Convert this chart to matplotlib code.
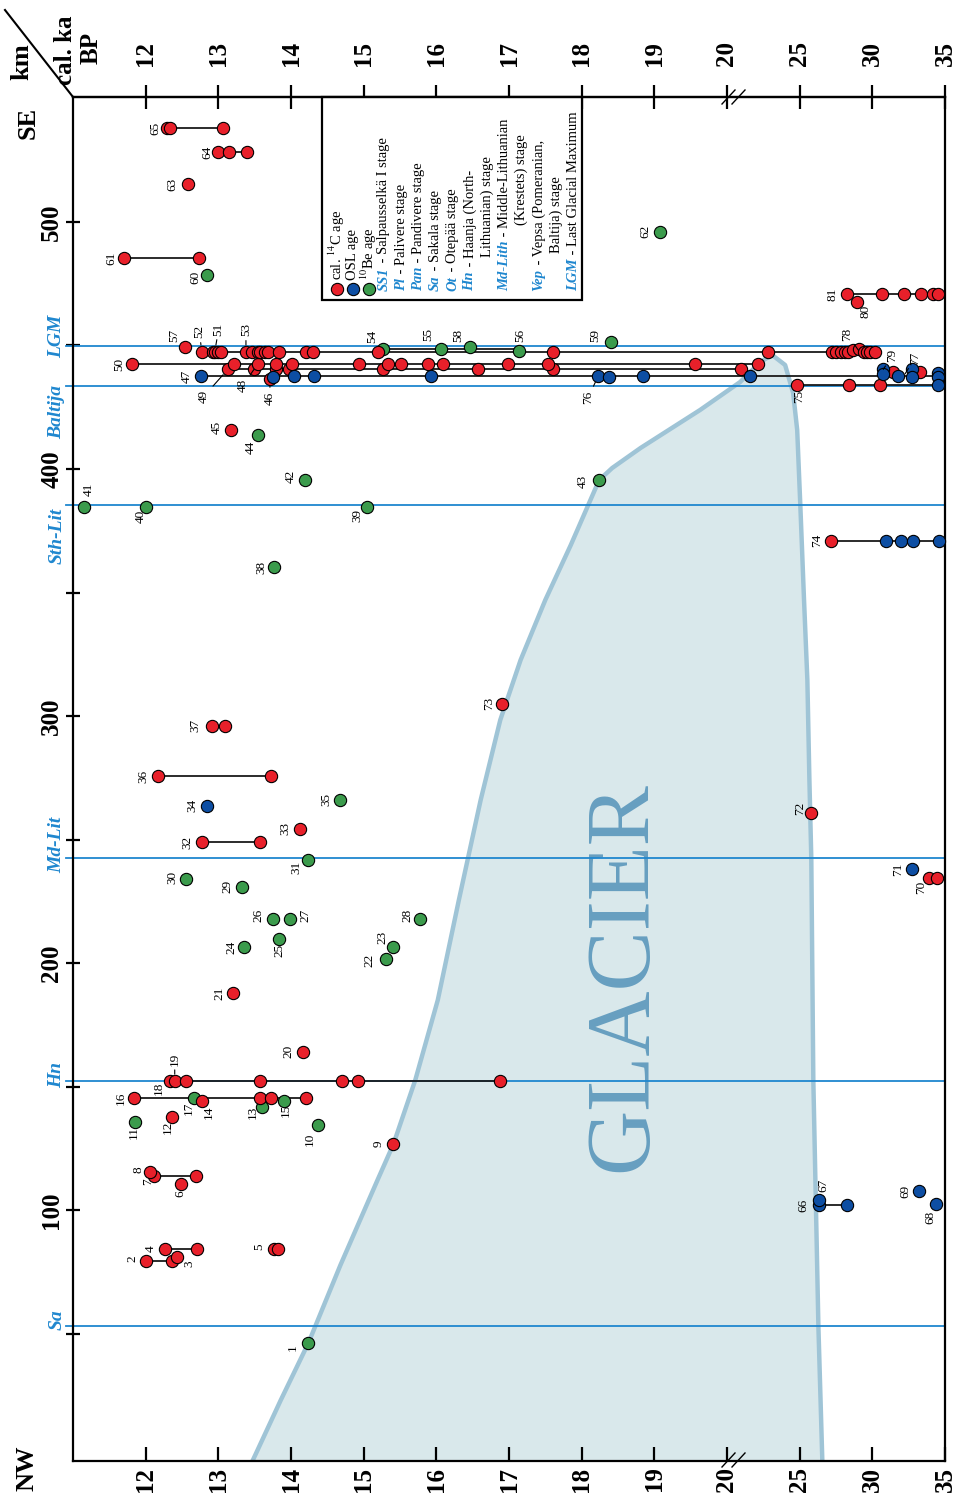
import matplotlib
matplotlib.use('Agg')
import matplotlib.pyplot as plt
from matplotlib.patches import Polygon, Rectangle
from matplotlib.lines import Line2D

plt.rcParams['font.family'] = ['Liberation Serif', 'DejaVu Serif']
plt.rcParams['mathtext.fontset'] = 'stix'

# ------------------------------------------------------------------ data
# axis ticks (age, ka BP) -- scale is broken at 20 ka
age_ticks = [12, 13, 14, 15, 16, 17, 18, 19, 20, 25, 30, 35]
age_tick_labels = ['12', '13', '14', '15', '16', '17', '18', '19', '20', '25', '30', '35']
km_ticks = [100, 200, 300, 400, 500]
km_minor_ticks = [50, 150, 250, 350, 450]

# ice-marginal stages (km)
stage_names = ['Sa', 'Hn', 'Md-Lit', 'Sth-Lit', 'Baltija', 'LGM']
stage_km = [53.0, 152.2, 242.5, 385.4, 433.6, 449.8]

# glacier outline (age ka, km)
glacier_age = [13.47, 13.86, 14.24, 14.68, 15.19, 15.41, 15.71, 16.02, 16.31, 16.61,
               16.88, 17.16, 17.50, 17.85, 18.12, 18.24, 18.42, 18.81, 19.63, 20.9,
               22.3, 23.1, 24.0, 24.55, 24.83, 25.05, 25.3, 25.53, 25.67, 25.8,
               25.94, 26.15, 26.29, 26.56]
glacier_km = [-1.6, 23.1, 46.2, 77.7, 112.1, 126.7, 152.6, 185.0, 225.5, 266.0,
              298.4, 322.7, 347.0, 369.2, 387.4, 395.5, 400.4, 408.5, 423.9, 435.2,
              443.3, 446.2, 442.1, 430.8, 415.8, 384.6, 347.0, 314.6, 274.1, 242.5,
              152.6, 92.7, 52.6, -1.6]

# cal. 14C ages
c14_age = [12.01, 12.36, 12.43, 12.26, 12.70, 13.76, 13.82, 12.48, 12.12, 12.69,
           12.06, 15.40, 12.36, 12.77, 11.84, 13.57, 13.72, 14.20,
           12.34, 12.40, 12.55, 13.58, 14.70, 14.92, 16.87,
           14.16, 13.20, 12.77, 13.57, 14.12, 12.17, 13.72, 12.91, 13.09, 13.18, 13.71,
           13.13, 13.49, 13.80, 13.97, 15.26, 16.57, 17.61, 20.97,
           11.81, 13.21, 13.55, 13.80, 14.02, 14.93, 15.34, 15.51, 15.88, 16.09, 16.99, 17.54, 19.56, 22.1,
           12.77, 12.92, 12.95, 12.99, 13.03, 13.38, 13.47, 13.54, 13.58, 13.64, 13.69, 13.84,
           14.21, 14.30, 15.20, 17.60, 22.85,
           27.25, 27.5, 27.85, 28.15, 28.35, 28.7, 29.05, 29.4, 29.65, 29.85, 30.2,
           12.54, 11.70, 12.73, 12.58, 12.99, 13.14, 13.39, 12.30, 12.34, 13.06,
           33.93, 34.48, 25.8, 16.91, 27.17, 24.83, 28.4, 30.5, 31.45, 33.26,
           28.97, 28.28, 30.69, 32.2, 33.38, 34.2, 34.5]
c14_km = [79.4, 79.4, 81.0, 84.2, 84.2, 84.2, 84.2, 110.5, 113.8, 113.8,
          115.4, 126.7, 137.6, 144.2, 145.3, 145.3, 145.3, 145.3,
          152.2, 152.2, 152.2, 152.2, 152.2, 152.2, 152.2,
          164.0, 187.9, 249.0, 249.0, 254.3, 275.7, 275.7, 295.9, 295.9, 415.8, 436.4,
          440.3, 440.3, 440.3, 440.3, 440.3, 440.3, 440.3, 440.3,
          442.5, 442.5, 442.5, 442.5, 442.5, 442.5, 442.5, 442.5, 442.5, 442.5, 442.5, 442.5, 442.5, 442.5,
          447.4, 447.4, 447.4, 447.4, 447.4, 447.4, 447.4, 447.4, 447.4, 447.4, 447.4, 447.4,
          447.4, 447.4, 447.4, 447.4, 447.4,
          447.4, 447.4, 447.4, 447.4, 447.4, 448.2, 448.6, 447.4, 447.4, 447.4, 447.4,
          449.4, 485.4, 485.4, 515.4, 528.3, 528.3, 528.3, 538.0, 538.0, 538.0,
          234.4, 234.4, 260.7, 304.9, 370.9, 434.0, 434.0, 434.0, 439.3, 439.3,
          467.6, 470.9, 470.9, 470.9, 470.9, 470.9, 470.9]

# OSL ages
osl_age = [12.85, 12.76, 13.75, 14.04, 14.31, 15.93, 18.23, 18.37, 18.84, 21.6,
           30.75, 30.75, 31.8, 32.7, 32.7, 34.55, 34.55,
           26.34, 28.28, 26.34, 34.4, 33.24, 32.76, 30.97, 32.0, 32.83, 34.6, 34.55]
osl_km = [263.6, 437.7, 437.3, 437.7, 437.7, 437.7, 437.7, 437.3, 437.7, 437.7,
          440.3, 438.5, 437.7, 440.3, 437.3, 438.9, 437.3,
          102.0, 102.0, 104.0, 102.4, 107.7, 238.0, 370.9, 370.9, 370.9, 370.9, 434.0]

# 10Be ages
be_age = [14.24, 14.37, 11.86, 13.60, 13.90, 12.66, 15.31, 15.41, 13.36, 13.84,
          13.75, 13.98, 15.78, 13.33, 12.55, 14.24, 14.67, 13.76, 15.05, 12.01,
          11.15, 14.19, 18.24, 13.54, 15.27, 16.06, 17.14, 16.46, 18.40, 12.85, 19.08]
be_km = [46.2, 134.4, 135.6, 141.7, 144.2, 145.3, 201.6, 206.5, 206.5, 209.7,
         217.8, 217.8, 217.8, 230.8, 234.0, 241.7, 266.0, 360.3, 384.6, 384.6,
         384.6, 395.5, 395.5, 413.8, 448.6, 448.6, 447.8, 449.4, 451.4, 478.5, 496.0]

# age ranges of a sample set (km, oldest/youngest)
range_km = [79.4, 84.2, 84.2, 113.8, 145.3, 152.2, 249.0, 275.7, 295.9,
            437.7, 440.3, 442.5, 447.4, 448.6, 485.4, 528.3, 538.0,
            102.0, 370.9, 434.0, 470.9, 234.4]
range_from = [12.01, 12.26, 13.76, 12.12, 11.84, 12.34, 12.77, 12.17, 12.91,
              12.76, 13.13, 11.81, 12.77, 15.27, 11.70, 12.99, 12.30,
              26.34, 27.17, 24.83, 28.28, 33.93]
range_to = [12.36, 12.70, 13.82, 12.69, 14.20, 16.87, 13.57, 13.72, 13.09,
            35.0, 20.97, 22.1, 30.2, 17.14, 12.73, 13.39, 13.06,
            28.28, 34.6, 35.0, 34.5, 34.48]

# site numbers and the point each number refers to
site_id = list(range(1, 82))
site_age = [14.24, 12.01, 12.43, 12.26, 13.76, 12.48, 12.12, 12.06, 15.40, 14.37,
            11.86, 12.36, 13.60, 12.77, 13.90, 11.84, 12.66, 12.34, 12.40, 14.16,
            13.20, 15.31, 15.41, 13.36, 13.84, 13.75, 13.98, 15.78, 13.33, 12.55,
            14.24, 12.77, 14.12, 12.85, 14.67, 12.17, 12.91, 13.76, 15.05, 12.01,
            11.15, 14.19, 18.24, 13.54, 13.18, 13.71, 12.76, 13.49, 13.13, 11.81,
            12.95, 12.77, 13.38, 15.20, 16.06, 17.14, 12.54, 16.46, 18.40, 12.85,
            11.70, 19.08, 12.58, 12.99, 12.30, 26.34, 26.34, 34.4, 33.24, 33.93,
            32.76, 25.8, 16.91, 27.17, 24.83, 18.23, 32.25, 29.05, 30.75, 28.97, 28.28]
site_km = [46.2, 79.4, 81.0, 84.2, 84.2, 110.5, 113.8, 115.4, 126.7, 134.4,
           135.6, 137.6, 141.7, 144.2, 144.2, 145.3, 145.3, 152.2, 152.2, 164.0,
           187.9, 201.6, 206.5, 206.5, 209.7, 217.8, 217.8, 217.8, 230.8, 234.0,
           241.7, 249.0, 254.3, 263.6, 266.0, 275.7, 295.9, 360.3, 384.6, 384.6,
           384.6, 395.5, 395.5, 413.8, 415.8, 436.4, 437.7, 440.3, 440.3, 442.5,
           447.4, 447.4, 447.4, 447.4, 448.6, 447.8, 449.4, 449.4, 451.4, 478.5,
           485.4, 496.0, 515.4, 528.3, 538.0, 102.0, 104.0, 102.4, 107.7, 234.4,
           238.0, 260.7, 304.9, 370.9, 434.0, 437.7, 438.5, 448.0, 440.3, 467.6, 470.9]

# legend rows
legend_markers = ['cal. $^{\\mathrm{14}}$C age', 'OSL age', '$^{\\mathrm{10}}$Be age']
legend_abbr = ['SS1', 'Pl', 'Pan', 'Sa', 'Ot', 'Hn', '', 'Md-Lith', '', 'Vep', '', 'LGM']
legend_text = [' - Salpausselkä I stage', ' - Palivere stage', ' - Pandivere stage',
               ' - Sakala stage', ' - Otepää stage', ' - Haanja (North-',
               'Lithuanian) stage', ' - Middle-Lithuanian', '(Krestets) stage',
               ' - Vepsa (Pomeranian,', 'Baltija) stage', ' - Last Glacial Maximum']

# ------------------------------------------------------------------ style / layout
W, H = 960, 1504
RED, BLUE, GREEN = '#e8202a', '#0d4ea3', '#3b9b4c'
STAGE = '#1f87cf'
LAB_OFF = {1: (-16, 5), 2: (-14, -2), 3: (12, 7), 4: (-14, 0), 5: (-14, -2), 6: (0, 10),
           7: (-6, 6), 8: (-12, -2), 9: (-14, 0), 10: (-8, 14), 11: (-2, 10), 12: (-4, 10),
           13: (-9, 5), 14: (7, 11), 15: (2, 10), 16: (-13, 0), 17: (-5, 10), 18: (-12, 7),
           19: (0, -22), 20: (-14, -1), 21: (-13, 0), 22: (-17, 1), 23: (-11, -10),
           24: (-13, 0), 25: (0, 11), 26: (-14, -4), 27: (16, -4), 28: (-13, -4),
           29: (-15, -1), 30: (-13, -2), 31: (-12, 7), 32: (-14, 0), 33: (-14, 0),
           34: (-15, 0), 35: (-13, 0), 36: (-15, 0), 37: (-16, -1), 38: (-12, 0),
           39: (-10, 8), 40: (-6, 9), 41: (5, -18), 42: (-14, -4), 43: (-16, 1),
           44: (-7, 12), 45: (-15, -3), 46: (0, 19), 47: (-14, 0), 48: (-11, 16),
           49: (-24, 27), 50: (-13, 0), 51: (4, -23), 52: (-2, -20), 53: (0, -22),
           54: (-6, -15), 55: (-12, -14), 56: (1, -15), 57: (-11, -12), 58: (-12, -12),
           59: (-15, -7), 60: (-12, 2), 61: (-12, 0), 62: (-15, 0), 63: (-15, 0),
           64: (-10, 0), 65: (-12, 0), 66: (-16, 0), 67: (4, -15), 68: (-6, 13),
           69: (-14, 0), 70: (-8, 9), 71: (-14, 0), 72: (-11, -5), 73: (-13, 0),
           74: (-14, -1), 75: (2, 11), 76: (-10, 21), 77: (10, -16), 78: (-11, -16),
           79: (9, -14), 80: (8, 9), 81: (-15, 0)}
LEADER = {19, 46, 48, 49, 51, 52, 53, 76, 77, 78, 79}


def tx(a):
    """broken age scale: linear to 20 ka, then 5 ka per unit"""
    return a if a <= 20 else 20 + (a - 20) / 5.0


def fx(px):
    return px / W


def fy(py):
    return 1 - py / H


fig = plt.figure(figsize=(W / 100, H / 100), dpi=100)
ax = fig.add_axes([fx(73), fy(1461), (945 - 73) / W, (1461 - 97) / H])
ax.set_xlim(11.0, 23.0)
ax.set_ylim(-1.6, 550.6)

# glacier
gx = [tx(a) for a in glacier_age]
ax.add_patch(Polygon(list(zip(gx, glacier_km)), closed=True, facecolor='#d9e8eb',
                     edgecolor='none', zorder=1))
ax.plot(gx, glacier_km, color='#9fc4d6', lw=3.2, zorder=1.2, solid_joinstyle='round')
ax.text(tx(18.58), 194.7, 'GLACIER', rotation=90, ha='center', va='center', fontsize=65,
        color='#679fc0', zorder=1.5)

# stage lines + labels
for name, k in zip(stage_names, stage_km):
    ax.plot([10.9, 23.0], [k, k], color=STAGE, lw=1.3, zorder=2, clip_on=False)
stage_lab_km = {'Sa': 55.5, 'Hn': 154.7, 'Md-Lit': 247.8, 'Sth-Lit': 372.9,
                'Baltija': 423.1, 'LGM': 453.8}
for name in stage_names:
    ax.text(fx(57), ax.transData.transform((0, stage_lab_km[name]))[1] / H, name,
            transform=fig.transFigure, rotation=90, ha='center', va='center',
            fontsize=14, fontweight='bold', fontstyle='italic', color=STAGE)

# ranges
for k, a0, a1 in zip(range_km, range_from, range_to):
    ax.plot([tx(a0), tx(a1)], [k, k], color='#1a1a1a', lw=1.3, zorder=3,
            solid_capstyle='butt')

# points
mk = dict(s=78, edgecolors='black', linewidths=0.8, zorder=4, clip_on=False)
ax.scatter([tx(a) for a in be_age], be_km, c=GREEN, **mk)
ax.scatter([tx(a) for a in c14_age], c14_km, c=RED, **mk)
ax.scatter([tx(a) for a in osl_age], osl_km, c=BLUE, **mk)

# site numbers
for i, a, k in zip(site_id, site_age, site_km):
    dx, dy = LAB_OFF.get(i, (-13, 0))
    props = None
    if i in LEADER:
        props = dict(arrowstyle='-', lw=0.8, color='black', shrinkA=1, shrinkB=5)
    ax.annotate(str(i), (tx(a), k), xytext=(dx, -dy), textcoords='offset pixels',
                rotation=90, ha='center', va='center', fontsize=9.5,
                arrowprops=props, zorder=5)

# axes / ticks
for sp in ax.spines.values():
    sp.set_linewidth(1.6)
ax.set_xticks([tx(a) for a in age_ticks])
ax.set_xticklabels(age_tick_labels, rotation=90, fontsize=18, fontweight='bold')
ax.tick_params(axis='x', direction='in', length=10, width=1.6, pad=4)
ax.set_yticks(km_ticks)
ax.set_yticks(km_minor_ticks, minor=True)
ax.set_yticklabels([str(v) for v in km_ticks], rotation=90, va='center',
                   fontsize=18, fontweight='bold')
ax.tick_params(axis='y', which='both', direction='inout', length=10, width=1.6, pad=2)
sec = ax.secondary_xaxis('top')
sec.set_xticks([tx(a) for a in age_ticks])
sec.set_xticklabels(age_tick_labels, rotation=90, fontsize=18, fontweight='bold')
sec.tick_params(direction='inout', length=17, width=1.6, pad=14)
sec.spines['top'].set_linewidth(1.6)

# axis breaks
for yb in (1460, 97):
    for off in (0, 10):
        fig.add_artist(Line2D([fx(722 + off), fx(735 + off)], [fy(yb + 7), fy(yb - 7)],
                              color='black', lw=1.0))

# corner labels
fig.add_artist(Line2D([fx(5), fx(73)], [fy(10), fy(97)], color='black', lw=1.5))
fig.text(fx(22), fy(62), 'km', rotation=90, ha='center', va='center', fontsize=19,
         fontweight='bold')
fig.text(fx(65), fy(50), 'cal. ka', rotation=90, ha='center', va='center', fontsize=18,
         fontweight='bold')
fig.text(fx(91), fy(48), 'BP', rotation=90, ha='center', va='center', fontsize=18,
         fontweight='bold')
fig.text(fx(28), fy(123), 'SE', rotation=90, ha='center', va='center', fontsize=19,
         fontweight='bold')
fig.text(fx(27), fy(1468), 'NW', rotation=90, ha='center', va='center', fontsize=19,
         fontweight='bold')

# legend
ax.add_patch(Rectangle((fx(322), fy(300)), fx(582) - fx(322), fy(97) - fy(300),
                       transform=fig.transFigure, facecolor='white', edgecolor='black',
                       lw=1.6, zorder=2.2, clip_on=False))
renderer = fig.canvas.get_renderer()
LFS = 10.5
for j, (txt, col) in enumerate(zip(legend_markers, [RED, BLUE, GREEN])):
    xc = 337 + j * 15.8
    ax.scatter([fx(xc)], [fy(289)], s=78, c=col, edgecolors='black', linewidths=0.8,
               transform=fig.transFigure, zorder=6, clip_on=False)
    ax.text(fx(xc), fy(280), txt, transform=fig.transFigure, rotation=90,
            rotation_mode='anchor', ha='left', va='center', fontsize=LFS, zorder=6)
y_start = {6: 257, 8: 225, 10: 253}
for j, (ab, txt) in enumerate(zip(legend_abbr, legend_text)):
    xc = 384 + j * 17.2
    y0 = y_start.get(j, 291)
    if ab:
        t = ax.text(fx(xc), fy(y0), ab, transform=fig.transFigure, rotation=90,
                    rotation_mode='anchor', ha='left', va='center', fontsize=LFS,
                    fontweight='bold', fontstyle='italic', color=STAGE, zorder=6)
        bb = t.get_window_extent(renderer=renderer)
        y0 = y0 - bb.height - 1
    ax.text(fx(xc), fy(y0), txt, transform=fig.transFigure, rotation=90,
            rotation_mode='anchor', ha='left', va='center', fontsize=LFS, zorder=6)

fig.savefig('out.png', dpi=100)
